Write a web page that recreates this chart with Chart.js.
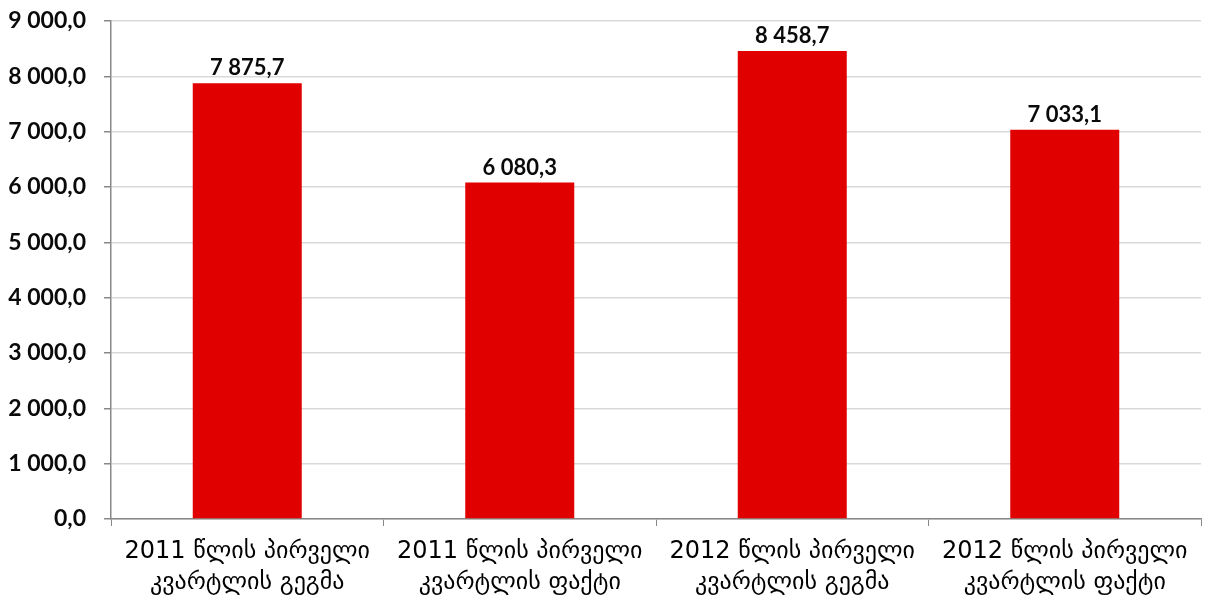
<!DOCTYPE html>
<html>
<head>
<meta charset="utf-8">
<script src="https://cdn.jsdelivr.net/npm/chart.js@4/dist/chart.umd.min.js"></script>
<style>
  html, body { margin: 0; padding: 0; background: #fff; }
  #wrap { width: 1207px; height: 608px; }
</style>
</head>
<body>
<div id="wrap"><canvas id="chart"></canvas></div>
<script>
// chart data
const categories = [
  ["2011 წლის პირველი", "კვარტლის გეგმა"],
  ["2011 წლის პირველი", "კვარტლის ფაქტი"],
  ["2012 წლის პირველი", "კვარტლის გეგმა"],
  ["2012 წლის პირველი", "კვარტლის ფაქტი"]
];
const values = [7875.7, 6080.3, 8458.7, 7033.1];
const yTicks = [0, 1000, 2000, 3000, 4000, 5000, 6000, 7000, 8000, 9000];

/** "9 000,0" style number */
function fmt(v) {
  const parts = v.toFixed(1).split(".");
  return parts[0].replace(/\B(?=(\d{3})+(?!\d))/g, " ") + "," + parts[1];
}

/** draws the value above each bar */
const valueLabels = {
  id: "valueLabels",
  afterDatasetsDraw(chart) {
    const ctx = chart.ctx;
    const meta = chart.getDatasetMeta(0);
    ctx.save();
    ctx.font = "bold 22px Lato";
    ctx.fillStyle = "#0a0a0a";
    ctx.textAlign = "center";
    ctx.textBaseline = "bottom";
    meta.data.forEach((bar, i) => {
      ctx.fillText(fmt(values[i]), bar.x, bar.y - 4);
    });
    ctx.restore();
  }
};

new Chart(document.getElementById("chart"), {
  type: "bar",
  data: {
    labels: categories,
    datasets: [{
      data: values,
      backgroundColor: "#e10000",
      borderWidth: 0,
      categoryPercentage: 0.8,
      barPercentage: 0.5
    }]
  },
  options: {
    responsive: true,
    maintainAspectRatio: false,
    animation: false,
    layout: { padding: { top: 21, right: 6, left: 0, bottom: 0 } },
    plugins: {
      legend: { display: false },
      tooltip: { enabled: false }
    },
    scales: {
      x: {
        grid: {
          offset: true,
          drawOnChartArea: false,
          tickLength: 7,
          tickColor: "#888",
          color: "#888"
        },
        border: { color: "#888", width: 1.5 },
        ticks: {
          color: "#000",
          font: { family: "DejaVu Sans", size: 24, lineHeight: 1.3 },
          maxRotation: 0,
          padding: 10
        },
        afterFit(scale) { scale.height = 89; }
      },
      y: {
        min: 0,
        max: 9000,
        afterBuildTicks(scale) { scale.ticks = yTicks.map(v => ({ value: v })); },
        grid: {
          color: "#d9d9d9",
          lineWidth: 1.5,
          tickLength: 7,
          tickColor: "#888"
        },
        border: { color: "#888", width: 1.5 },
        ticks: {
          color: "#0a0a0a",
          font: { family: "Lato", size: 23, weight: "bold" },
          padding: 18,
          callback: v => fmt(v)
        },
        afterFit(scale) {
          scale.width = 111;
          scale.paddingTop = 0;
          scale.paddingBottom = 0;
        }
      }
    }
  },
  plugins: [valueLabels]
});
</script>
</body>
</html>
